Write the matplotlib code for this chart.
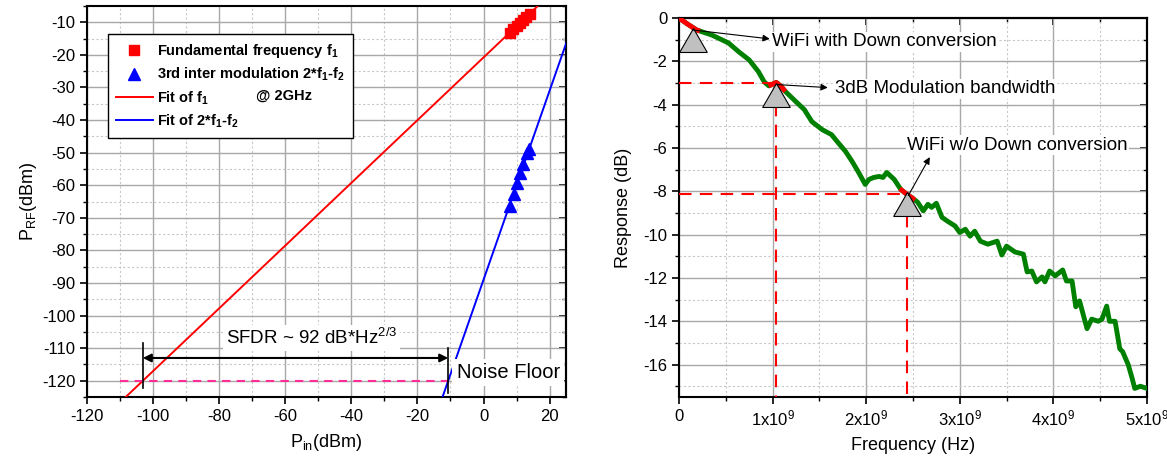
import numpy as np
import matplotlib
matplotlib.use("Agg")
import matplotlib.pyplot as plt
from matplotlib.ticker import MultipleLocator

plt.rcParams['font.family'] = ['Liberation Sans', 'DejaVu Sans']
plt.rcParams['mathtext.fontset'] = 'custom'
plt.rcParams['mathtext.rm'] = 'Liberation Sans'
plt.rcParams['mathtext.it'] = 'Liberation Sans'
plt.rcParams['mathtext.bf'] = 'Liberation Sans:bold'
plt.rcParams['axes.unicode_minus'] = False

# ---- left panel: two-tone test @ 2GHz ----
pin_f1 = [8, 9, 10, 11, 12, 13, 14]
prf_f1 = [-13.2, -12.2, -11.3, -10.3, -9.2, -8.4, -7.4]
pin_im3 = [7.9, 9.1, 10.0, 10.9, 12.1, 13.3, 13.9]
prf_im3 = [-66.4, -62.7, -59.3, -56.2, -53.5, -50.1, -48.8]
fit_f1 = (0.962, -20.8)     # slope, intercept
fit_im3 = (2.9, -89.0)
noise_floor = -120
sfdr_text = r'SFDR ~ 92 dB*Hz$^{2/3}$'

# ---- right panel: frequency response ----
freq_ghz = [0, 0.1, 0.19, 0.35, 0.53, 0.64, 0.75, 0.85, 0.91, 0.96, 1.00, 1.04,
            1.09, 1.14, 1.25, 1.34, 1.42, 1.53, 1.63, 1.69, 1.78, 1.85, 1.92,
            1.99, 2.03, 2.08, 2.14, 2.18, 2.22, 2.30, 2.37, 2.43, 2.49, 2.55,
            2.61, 2.66, 2.70, 2.75, 2.81, 2.87, 2.95, 3.00, 3.06, 3.11, 3.16,
            3.22, 3.30, 3.40, 3.45, 3.50, 3.59, 3.68, 3.72, 3.77, 3.82, 3.88,
            3.91, 3.96, 4.02, 4.10, 4.14, 4.20, 4.24, 4.28, 4.36, 4.41, 4.48,
            4.52, 4.57, 4.60, 4.66, 4.71, 4.74, 4.80, 4.84, 4.87, 4.93, 5.0]
resp_db = [0, -0.3, -0.55, -0.78, -1.15, -1.56, -1.93, -2.48, -2.94, -3.13,
           -3.05, -2.97, -3.15, -3.4, -3.86, -4.23, -4.78, -5.15, -5.38, -5.7,
           -6.16, -6.62, -7.13, -7.68, -7.45, -7.36, -7.31, -7.36, -7.13, -7.45,
           -7.91, -8.12, -8.3, -8.5, -8.9, -8.6, -8.74, -8.55, -9.2, -9.38, -9.6,
           -9.9, -9.75, -10.07, -9.84, -10.3, -10.44, -10.3, -10.94, -10.53,
           -10.8, -10.9, -11.72, -11.68, -12.18, -11.95, -12.18, -11.68, -11.9,
           -11.63, -12.14, -12.14, -13.33, -13.06, -14.34, -13.9, -14.0, -13.9,
           -13.3, -14.0, -14.0, -15.27, -15.4, -16.0, -16.6, -17.1, -17.0, -17.1]
red_ranges = [(0, 0.2), (0.98, 1.12), (2.38, 2.5)]
marker_f = [0.15, 1.04, 2.44]
marker_r = [-1.2, -3.72, -8.75]
bw_3db = (1.04, -3.0)
wifi_pt = (2.44, -8.12)
xtick_labels = ['0', r'1x10$^9$', r'2x10$^9$', r'3x10$^9$', r'4x10$^9$', r'5x10$^9$']

fig = plt.figure(figsize=(11.67, 4.58), dpi=100)
ax1 = fig.add_axes([0.0746, 0.133, 0.4105, 0.854])
ax2 = fig.add_axes([0.5818, 0.133, 0.401, 0.8275])


def style_axes(ax):
    ax.grid(True, which='major', color='#a8a8a8', lw=1.0, zorder=0)
    ax.grid(True, which='minor', color='#c8c8c8', lw=0.8, ls=(0, (2, 2)), zorder=0)
    ax.set_axisbelow(True)
    for s in ax.spines.values():
        s.set_linewidth(1.5)
    ax.tick_params(which='major', direction='out', length=5, width=1.2, labelsize=12)
    ax.tick_params(which='minor', direction='out', length=3, width=1.0)


def inner_ticks(ax, top=True):
    # mirrored ticks pointing inward, Origin style
    sy = ax.secondary_yaxis('right')
    sy.yaxis.set_major_locator(ax.yaxis.get_major_locator())
    sy.yaxis.set_minor_locator(ax.yaxis.get_minor_locator())
    sy.tick_params(which='major', direction='in', length=5, width=1.2, labelright=False)
    sy.tick_params(which='minor', direction='in', length=3, width=1.0)
    sy.spines['right'].set_linewidth(1.5)
    if top:
        sx = ax.secondary_xaxis('top')
        sx.xaxis.set_major_locator(ax.xaxis.get_major_locator())
        sx.xaxis.set_minor_locator(ax.xaxis.get_minor_locator())
        sx.tick_params(which='major', direction='in', length=5, width=1.2, labeltop=False)
        sx.tick_params(which='minor', direction='in', length=3, width=1.0)
        sx.spines['top'].set_linewidth(1.5)


# left panel
style_axes(ax1)
xx = np.array([-120, 25])
ax1.plot(xx, fit_f1[0] * xx + fit_f1[1], color='#ff0000', lw=1.4, label=r'Fit of f$_\mathbf{1}$', zorder=3)
ax1.plot(xx, fit_im3[0] * xx + fit_im3[1], color='#0000ff', lw=1.4, label=r'Fit of 2*f$_\mathbf{1}$-f$_\mathbf{2}$', zorder=3)
ax1.plot(pin_f1, prf_f1, 's', color='#ff0000', ms=7, ls='none',
         label=r'Fundamental frequency f$_\mathbf{1}$', zorder=4)
ax1.plot(pin_im3, prf_im3, '^', color='#0000ff', ms=8, ls='none',
         label=r'3rd inter modulation 2*f$_\mathbf{1}$-f$_\mathbf{2}$', zorder=4)

x_lo = (noise_floor - fit_f1[1]) / fit_f1[0]
x_hi = (noise_floor - fit_im3[1]) / fit_im3[0]
ax1.plot([-110, x_hi], [noise_floor, noise_floor], color='#ff2d95', lw=1.5, dashes=(4, 3), zorder=3)
ax1.plot([x_lo, x_lo], [-108.5, -122.3], color='black', lw=1.2, zorder=4)
ax1.plot([x_hi, x_hi], [-110, -123.8], color='black', lw=1.2, zorder=4)
ax1.annotate('', xy=(x_lo, -113), xytext=(x_hi, -113),
             arrowprops=dict(arrowstyle='<|-|>', color='black', lw=1.5,
                             mutation_scale=12, shrinkA=0, shrinkB=0), zorder=4)
ax1.text(-52, -106.8, sfdr_text, fontsize=13.5, ha='center', va='center',
         bbox=dict(facecolor='white', edgecolor='none', pad=2), zorder=5)
ax1.text(7.5, -117.4, 'Noise Floor', fontsize=14.5, ha='center', va='center',
         bbox=dict(facecolor='white', edgecolor='none', pad=3), zorder=5)
ax1.text(-69, -32.5, '@ 2GHz', fontsize=10.5, fontweight='bold', ha='left', va='center', zorder=6)

handles, labels = ax1.get_legend_handles_labels()
order = [2, 3, 0, 1]
leg = ax1.legend([handles[i] for i in order], [labels[i] for i in order],
                 loc='upper left', bbox_to_anchor=(0.044, 0.928), borderaxespad=0,
                 prop={'weight': 'bold', 'size': 10.5}, fancybox=False, framealpha=1,
                 edgecolor='black', handlelength=2.5, labelspacing=0.4,
                 handletextpad=0.3, borderpad=0.55)
leg.get_frame().set_linewidth(1.0)
leg.set_zorder(5)

ax1.set_xlim(-120, 25)
ax1.set_ylim(-125, -5)
ax1.xaxis.set_major_locator(MultipleLocator(20))
ax1.xaxis.set_minor_locator(MultipleLocator(10))
ax1.yaxis.set_major_locator(MultipleLocator(10))
ax1.yaxis.set_minor_locator(MultipleLocator(5))
ax1.set_xlabel(r'P$_{\mathrm{in}}$(dBm)', fontsize=13, labelpad=6)
ax1.set_ylabel(r'P$_{\mathrm{RF}}$(dBm)', fontsize=13, labelpad=2)
inner_ticks(ax1, top=False)

# right panel
style_axes(ax2)
f = np.array(freq_ghz) * 1e9
ax2.plot(f, resp_db, color='#008000', lw=3.5, solid_joinstyle='round', zorder=3)
for lo, hi in red_ranges:
    fs = np.linspace(lo, hi, 30)
    ax2.plot(fs * 1e9, np.interp(fs, freq_ghz, resp_db), color='#ff0000', lw=3.5, zorder=4)

red_dash = dict(color='#ff0000', lw=1.5, dashes=(6, 4), zorder=3)
ax2.plot([0, bw_3db[0] * 1e9], [bw_3db[1], bw_3db[1]], **red_dash)
ax2.plot([bw_3db[0] * 1e9, bw_3db[0] * 1e9], [bw_3db[1], -17.5], **red_dash)
ax2.plot([0, wifi_pt[0] * 1e9], [wifi_pt[1], wifi_pt[1]], **red_dash)
ax2.plot([wifi_pt[0] * 1e9, wifi_pt[0] * 1e9], [wifi_pt[1], -17.5], **red_dash)

ax2.plot(np.array(marker_f) * 1e9, marker_r, marker=(3, 0, 0), ms=23, ls='none',
         markerfacecolor='#c0c0c0', markeredgecolor='black', markeredgewidth=0.8, zorder=5)

arrow = dict(arrowstyle='-|>', color='black', lw=0.8, mutation_scale=10, shrinkA=0, shrinkB=0)
box = dict(facecolor='white', edgecolor='none', pad=1)
ax2.annotate('', xy=(0.97e9, -0.96), xytext=(0.15e9, -0.55), arrowprops=arrow, zorder=6)
ax2.text(0.99e9, -1.1, 'WiFi with Down conversion', fontsize=13.5, va='center', bbox=box, zorder=6)
ax2.annotate('', xy=(1.59e9, -3.21), xytext=(1.05e9, -3.07), arrowprops=arrow, zorder=6)
ax2.text(1.67e9, -3.26, '3dB Modulation bandwidth', fontsize=13.5, va='center', bbox=box, zorder=6)
ax2.annotate('', xy=(2.68e9, -6.42), xytext=(2.45e9, -8.2), arrowprops=arrow, zorder=6)
ax2.text(2.44e9, -5.87, 'WiFi w/o Down conversion', fontsize=13.5, va='center', bbox=box, zorder=6)

ax2.set_xlim(0, 5e9)
ax2.set_ylim(-17.5, 0)
ax2.set_xticks(np.arange(6) * 1e9)
ax2.set_xticklabels(xtick_labels)
ax2.xaxis.set_minor_locator(MultipleLocator(0.5e9))
ax2.yaxis.set_major_locator(MultipleLocator(2))
ax2.yaxis.set_minor_locator(MultipleLocator(1))
ax2.set_xlabel('Frequency (Hz)', fontsize=13, labelpad=6)
ax2.set_ylabel('Response (dB)', fontsize=13, labelpad=8)
inner_ticks(ax2, top=True)

fig.savefig('out.png', dpi=100)
